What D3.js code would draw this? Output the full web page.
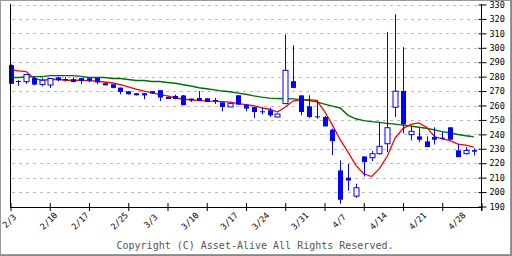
<!DOCTYPE html>
<html>
<head>
<meta charset="utf-8">
<title>Candlestick chart</title>
<style>
html, body {
  margin: 0;
  padding: 0;
  background: #fff;
}
svg {
  display: block;
}
.grid line {
  stroke: #bbb;
  stroke-dasharray: 3,4;
}
.axis text {
  font-family: 'DejaVu Sans Mono', monospace;
  font-size: 8.5px;
  fill: #000;
}
.copy {
  font-family: 'DejaVu Sans Mono', monospace;
  font-size: 10px;
  fill: #555;
}
</style>
<script src="https://d3js.org/d3.v7.min.js"></script>
</head>
<body>
<svg width="512" height="256"></svg>
<script>

// daily prices, one entry per trading day
var open  = [288, 277, 276.5, 279, 274.5, 274.2, 279.5, 278.3, 278.2, 279,
             278.9, 279, 275.5, 274.7, 272.4, 269.9, 268.5, 268.5, 269.9, 270.6,
             266, 266.6, 267, 264.8, 265.2, 265, 263.8, 262.2, 259, 267.1,
             260.6, 259, 256, 256.7, 252, 261.3, 276.8, 267, 259.4, 252.5,
             252, 243.3, 215, 210, 197.2, 224.7, 223.8, 226.6, 233.5, 258.8,
             270.1, 239.8, 238.6, 235.1, 238.1, 237.7, 244.9, 228.9, 226.6, 229.1];
var high  = [288.5, 277.5, 281.5, 279.8, 278.9, 279, 280, 279.6, 279.6, 279,
             278.9, 279.4, 275.6, 274.7, 272.4, 269.9, 268.5, 268.5, 269.9, 270.6,
             266, 267.5, 267.3, 264.8, 270, 265, 265.2, 262.2, 262, 267.1,
             260.6, 259, 259, 258.5, 254.1, 309.2, 301.8, 267.1, 267.1, 263.6,
             252.7, 244, 222, 219.6, 205.7, 224.7, 228.4, 248.5, 311, 323.3,
             300.4, 245.6, 244.2, 238.6, 244.9, 241.6, 244.9, 233.5, 231.2, 230.3];
var low   = [275, 273.6, 275, 274, 273.3, 272.2, 276.8, 276.8, 276, 275,
             276.1, 274.7, 274, 271.9, 267.8, 267.5, 267, 264.3, 268, 263.1,
             264.5, 264.3, 260.2, 262.4, 263.1, 262.4, 261, 256, 259, 260.6,
             256, 251.3, 253.9, 252, 252, 261, 272, 253.2, 251.3, 250.9,
             245.5, 225.6, 191.9, 201, 196, 210.8, 221.5, 226, 227.7, 252,
             240.7, 235.8, 234.7, 231.2, 233, 236.3, 236.3, 224.2, 226.1, 225.4];
var close = [275, 277, 281.5, 274.5, 277.5, 278.7, 277.5, 278.3, 276.3, 277,
             277, 276, 274, 272.2, 269.4, 267.8, 267.1, 267, 268.3, 265.5,
             264.5, 264.5, 260.2, 263.6, 263.1, 262.4, 263.8, 259, 261.5, 260.6,
             257.8, 255.5, 256, 253.2, 254.1, 284.4, 272.2, 255.5, 252, 252.5,
             245.5, 235.3, 194.7, 208, 203, 220.8, 226.6, 231.7, 244.6, 269.9,
             246.9, 242.1, 236.3, 231.2, 236.3, 237.7, 236.3, 224.2, 228.9, 228];

// moving averages
var maShort = [284.9, 284, 283.5, 278.7, 277.5, 278, 278.2, 277.5, 277.5, 277.5,
               277.3, 276.8, 276.3, 275.6, 274.5, 272.9, 271.3, 269.9, 269, 267.6,
               266.6, 265.2, 264.5, 263.8, 263.6, 263.1, 262.9, 262.7, 262.4, 261.3,
               260.6, 259.9, 258.3, 257.4, 255.5, 259, 263.1, 264.1, 264.1, 263.6,
               256, 246.6, 236.3, 227.7, 218.5, 212.7, 210.8, 216.2, 225, 237.5,
               244, 247, 248, 245, 238.5, 236.8, 235.6, 233.2, 232.6, 231.2];
var maLong  = [279.4, 279.4, 279.8, 280, 280, 280.7, 280.7, 280.7, 280.7, 280.2,
               279.4, 279.4, 279.4, 278.7, 278.7, 278, 277.3, 277.3, 276.6, 276.6,
               275.9, 275.4, 274.4, 273.5, 272.3, 271.6, 270.8, 270, 269.5, 268.6,
               267.8, 266.7, 265.8, 265.1, 264.8, 264.7, 264.6, 264.1, 263.5, 262.5,
               261, 259.6, 258.3, 253.2, 250.8, 249.5, 248.8, 248.3, 247.6, 247.1,
               246.4, 245.8, 244.9, 244.2, 243.1, 241.9, 241, 239.9, 239, 238.3];

// date labels and the day index they sit on
var dateLabels = ["2/3", "2/10", "2/17", "2/25", "3/3", "3/10", "3/17",
                  "3/24", "3/31", "4/7", "4/14", "4/21", "4/28"];
var dateIndex  = [0, 5, 9, 14, 18, 23, 28, 32, 37, 42, 47, 52, 57];
var priceTicks = d3.range(190, 331, 10);

var svg = d3.select("svg");

var x = d3.scaleLinear().domain([0, 60]).range([10.5, 481.5]);
var y = d3.scaleLinear().domain([190, 330]).range([206.5, 4.5]);

var days = d3.range(open.length);

// frame
svg.append("rect")
    .attr("x", 0.5).attr("y", 0.5)
    .attr("width", 510).attr("height", 254)
    .attr("fill", "none")
    .attr("stroke", "#999");
svg.append("line")
    .attr("x1", 0).attr("x2", 512).attr("y1", 255.5).attr("y2", 255.5)
    .attr("stroke", "#888");
svg.append("line")
    .attr("x1", 511.5).attr("x2", 511.5).attr("y1", 0).attr("y2", 256)
    .attr("stroke", "#888");

// dashed grid
svg.append("g")
    .attr("class", "grid")
    .selectAll("line")
    .data(priceTicks.filter(function(d) { return d > 190; }))
    .enter().append("line")
      .attr("x1", 12)
      .attr("x2", 479)
      .attr("y1", function(d) { return Math.round(y(d)) + 0.5; })
      .attr("y2", function(d) { return Math.round(y(d)) + 0.5; });

// moving averages
var line = d3.line()
    .x(function(d, i) { return x(i); })
    .y(function(d) { return y(d); });

svg.append("path")
    .datum(maLong)
    .attr("fill", "none")
    .attr("stroke", "#006e00")
    .attr("stroke-width", 1.4)
    .attr("d", line);

svg.append("path")
    .datum(maShort)
    .attr("fill", "none")
    .attr("stroke", "#f00")
    .attr("stroke-width", 1.3)
    .attr("d", line);

// candles
var candle = svg.append("g").selectAll("g")
    .data(days)
    .enter().append("g");

candle.append("line")
    .attr("x1", function(i) { return Math.round(x(i)) + 0.5; })
    .attr("x2", function(i) { return Math.round(x(i)) + 0.5; })
    .attr("y1", function(i) { return y(high[i]); })
    .attr("y2", function(i) { return y(low[i]); })
    .attr("stroke", "#00f");

candle.append("rect")
    .attr("x", function(i) { return Math.round(x(i)) - 2; })
    .attr("width", 5)
    .attr("y", function(i) { return y(Math.max(open[i], close[i])); })
    .attr("height", function(i) {
      return Math.max(1, Math.abs(y(open[i]) - y(close[i])));
    })
    .attr("fill", function(i) { return close[i] > open[i] ? "#fff" : "#00f"; })
    .attr("stroke", function(i) { return close[i] > open[i] ? "#00f" : "none"; });

// axes
svg.append("line")
    .attr("x1", 10.5).attr("x2", 10.5).attr("y1", 4).attr("y2", 207)
    .attr("stroke", "#000");

svg.append("g")
    .attr("class", "axis")
    .attr("transform", "translate(0,207)")
    .call(d3.axisBottom(x).tickValues(d3.range(0, 61, 5)).tickSize(4).tickFormat(""))
    .call(function(g) {
      g.select(".domain").attr("d", "M10,0.5H482").attr("stroke", "#000");
      g.selectAll(".tick line").attr("y1", -4).attr("stroke", "#000");
    });

svg.append("g")
    .attr("class", "axis")
    .attr("transform", "translate(481.5,0)")
    .call(d3.axisRight(y).tickValues(priceTicks).tickSize(5).tickPadding(3))
    .call(function(g) {
      g.select(".domain").attr("d", "M0,4V211").attr("stroke", "#000");
      g.selectAll(".tick line").attr("x1", -3).attr("stroke", "#000");
    });

svg.append("g")
    .attr("class", "axis")
    .selectAll("text")
    .data(dateLabels)
    .enter().append("text")
      .attr("text-anchor", "middle")
      .attr("transform", function(d, k) {
        return "translate(" + (x(dateIndex[k]) + 1) + ",223) rotate(-45)";
      })
      .text(function(d) { return d; });

svg.append("text")
    .attr("class", "copy")
    .attr("x", 255)
    .attr("y", 249)
    .attr("text-anchor", "middle")
    .text("Copyright (C) Asset-Alive All Rights Reserved.");

</script>
</body>
</html>
